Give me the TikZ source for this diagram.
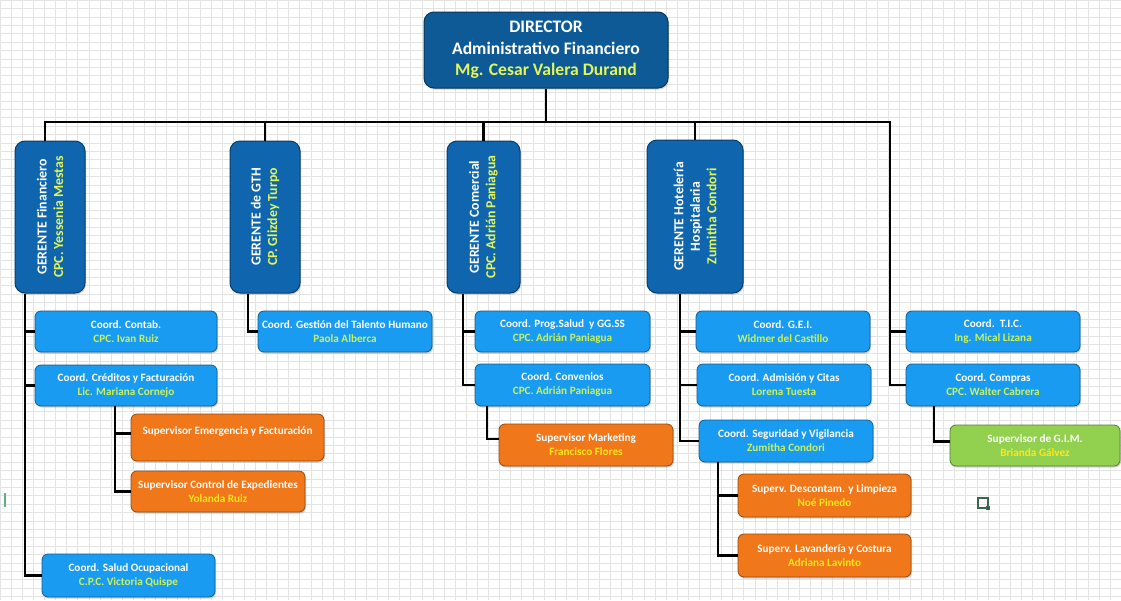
\documentclass[tikz,border=0pt]{standalone}
\usepackage{fontspec}
\setmainfont{Carlito}[BoldFont={Carlito Bold}]
\usetikzlibrary{shadows}
\definecolor{dirblue}{HTML}{0D5A96}
\definecolor{gerblue}{HTML}{0F66AE}
\definecolor{coordblue}{HTML}{1A9BF2}
\definecolor{orng}{HTML}{F0781A}
\definecolor{lgreen}{HTML}{92D050}
\definecolor{nameyl}{HTML}{E2F55A}
\definecolor{namegr}{HTML}{C9F25A}
\definecolor{nameor}{HTML}{FFE81A}
\definecolor{gridc}{HTML}{E3E3E3}
\definecolor{markc}{HTML}{3C6450}
\definecolor{tickc}{HTML}{60B080}
\tikzset{
 box/.style={rounded corners=6pt, inner sep=0pt, align=center, text=white,
   drop shadow={opacity=0.35, shadow xshift=1pt, shadow yshift=-1.5pt}},
 dirbox/.style={box, fill=dirblue, draw=dirblue!60!black, line width=1pt, rounded corners=10pt,
   font=\bfseries\fontsize{17.6}{21.5}\selectfont},
 gerbox/.style={box, fill=gerblue, draw=gerblue!60!black, line width=1pt, rounded corners=10pt,
   rotate=90, font=\bfseries\fontsize{13.8}{16.5}\selectfont},
 coordbox/.style={box, fill=coordblue, draw=coordblue!60!black, line width=0.8pt,
   font=\bfseries\fontsize{11.2}{14}\selectfont},
 supbox/.style={coordbox, fill=orng, draw=orng!60!black},
 gimbox/.style={coordbox, fill=lgreen, draw=lgreen!60!black},
 conn/.style={line width=2.2pt, black},
}
\begin{document}
\begin{tikzpicture}[x=1pt,y=-1pt]
\useasboundingbox (0,0) rectangle (1121,600);
\fill[white] (0,0) rectangle (1121,600);
\draw[gridc, line width=0.5pt, xstep=11.1pt, ystep=8.4pt] (0,600) grid (1121,0);

% director
\node[dirbox, minimum width=244, minimum height=76] (dir) at (546,50)
  {DIRECTOR\\Administrativo Financiero\\\textcolor{nameyl}{Mg. Cesar Valera Durand}};

% gerentes
\node[gerbox, minimum width=152, minimum height=70] (gf) at (50,217)
  {GERENTE Financiero\\\textcolor{nameyl}{CPC. Yessenia Mestas}};
\node[gerbox, minimum width=152, minimum height=70] (gth) at (265,217)
  {GERENTE de GTH\\\textcolor{nameyl}{CP. Glizdey Turpo}};
\node[gerbox, minimum width=152, minimum height=73] (gc) at (483.5,217)
  {GERENTE Comercial\\\textcolor{nameyl}{CPC. Adrián Paniagua}};
\node[gerbox, minimum width=153, minimum height=96] (gh) at (695,216.5)
  {GERENTE Hotelería\\Hospitalaria\\\textcolor{nameyl}{Zumitha Condori}};

% financiero
\node[coordbox, minimum width=182, minimum height=41] (contab) at (126,331.5)
  {Coord. Contab.\\\textcolor{namegr}{CPC. Ivan Ruiz}};
\node[coordbox, minimum width=182, minimum height=41] (cred) at (126,385.5)
  {Coord. Créditos y Facturación\\\textcolor{namegr}{Lic. Mariana Cornejo}};
\node[supbox, minimum width=193, minimum height=47] (emer) at (227.5,437.5)
  {Supervisor Emergencia y Facturación\\\mbox{}};
\node[supbox, minimum width=174, minimum height=41] (ctrl) at (218,491.5)
  {Supervisor Control de Expedientes\\\textcolor{nameor}{Yolanda Ruiz}};
\node[coordbox, minimum width=173, minimum height=43] (salud) at (128.5,575.5)
  {Coord. Salud Ocupacional\\\textcolor{namegr}{C.P.C. Victoria Quispe}};

% gth
\node[coordbox, minimum width=174, minimum height=41] (gest) at (345,331.5)
  {Coord. Gestión del Talento Humano\\\textcolor{namegr}{Paola Alberca}};

% comercial
\node[coordbox, minimum width=175, minimum height=41] (prog) at (562.5,331.5)
  {Coord. Prog.Salud~~y GG.SS\\\textcolor{namegr}{CPC. Adrián Paniagua}};
\node[coordbox, minimum width=175, minimum height=42] (conv) at (562.5,385)
  {Coord. Convenios\\\textcolor{namegr}{CPC. Adrián Paniagua}};
\node[supbox, minimum width=174, minimum height=42] (mkt) at (586,445)
  {Supervisor Marketing\\\textcolor{nameor}{Francisco Flores}};

% hoteleria
\node[coordbox, minimum width=174, minimum height=41] (gei) at (783,331.5)
  {Coord. G.E.I.\\\textcolor{namegr}{Widmer del Castillo}};
\node[coordbox, minimum width=174, minimum height=42] (adm) at (784,385)
  {Coord. Admisión y Citas\\\textcolor{namegr}{Lorena Tuesta}};
\node[coordbox, minimum width=174, minimum height=42] (seg) at (786,441)
  {Coord. Seguridad y Vigilancia\\\textcolor{namegr}{Zumitha Condori}};
\node[supbox, minimum width=173, minimum height=43] (desc) at (824.5,495.5)
  {Superv. Descontam. y Limpieza\\\textcolor{nameor}{Noé Pinedo}};
\node[supbox, minimum width=173, minimum height=43] (lav) at (824.5,555.5)
  {Superv. Lavandería y Costura\\\textcolor{nameor}{Adriana Lavinto}};

% tic / compras
\node[coordbox, minimum width=174, minimum height=41] (tic) at (993,331.5)
  {Coord.~~T.I.C.\\\textcolor{namegr}{Ing. Mical Lizana}};
\node[coordbox, minimum width=174, minimum height=42] (comp) at (993,385)
  {Coord. Compras\\\textcolor{namegr}{CPC. Walter Cabrera}};
\node[gimbox, minimum width=170, minimum height=41] (gim) at (1035,445.5)
  {Supervisor de G.I.M.\\\textcolor{nameor}{Brianda Gálvez}};

% connectors
\coordinate (tbus) at (890,122);
\draw[conn] (dir.south) -- (dir.south |- tbus);
\draw[conn] ([xshift=-5pt]gf.east) |- (tbus) |- (comp.west);
\draw[conn] (tbus |- tic.west) -- (tic.west);
\draw[conn] (gth.east) -- (gth.east |- tbus);
\draw[conn] (gc.east) -- (gc.east |- tbus);
\draw[conn] (gh.east) -- (gh.east |- tbus);

\draw[conn] ([xshift=-25pt]gf.west) |- (salud.west);
\draw[conn] ([xshift=-25pt]gf.west |- contab.west) -- (contab.west);
\draw[conn] ([xshift=-25pt]gf.west |- cred.west) -- (cred.west);
\draw[conn] ([xshift=-11pt]cred.south) |- (ctrl.west);
\draw[conn] ([xshift=-11pt,yshift=4pt]cred.south |- emer.west) -- ([yshift=4pt]emer.west);

\draw[conn] ([xshift=-17pt]gth.west) |- (gest.west);

\draw[conn] ([xshift=-20.5pt]gc.west) |- (conv.west);
\draw[conn] ([xshift=-20.5pt]gc.west |- prog.west) -- (prog.west);
\draw[conn] ([xshift=-75.5pt]conv.south) |- ([yshift=6pt]mkt.west);

\draw[conn] ([xshift=-15pt]gh.west) |- (seg.west);
\draw[conn] ([xshift=-15pt]gh.west |- gei.west) -- (gei.west);
\draw[conn] ([xshift=-15pt]gh.west |- adm.west) -- (adm.west);
\draw[conn] ([xshift=-68pt]seg.south) |- (lav.west);
\draw[conn] ([xshift=-68pt]seg.south |- desc.west) -- (desc.west);

\draw[conn] ([xshift=-59pt]comp.south) |- ([yshift=4pt]gim.west);

% small marks
\draw[markc, line width=1.2pt] (978,498) rectangle (988,508);
\fill[markc] (986,506) rectangle (990,510);
\fill[tickc] (4,493) rectangle (6,507);
\end{tikzpicture}
\end{document}
